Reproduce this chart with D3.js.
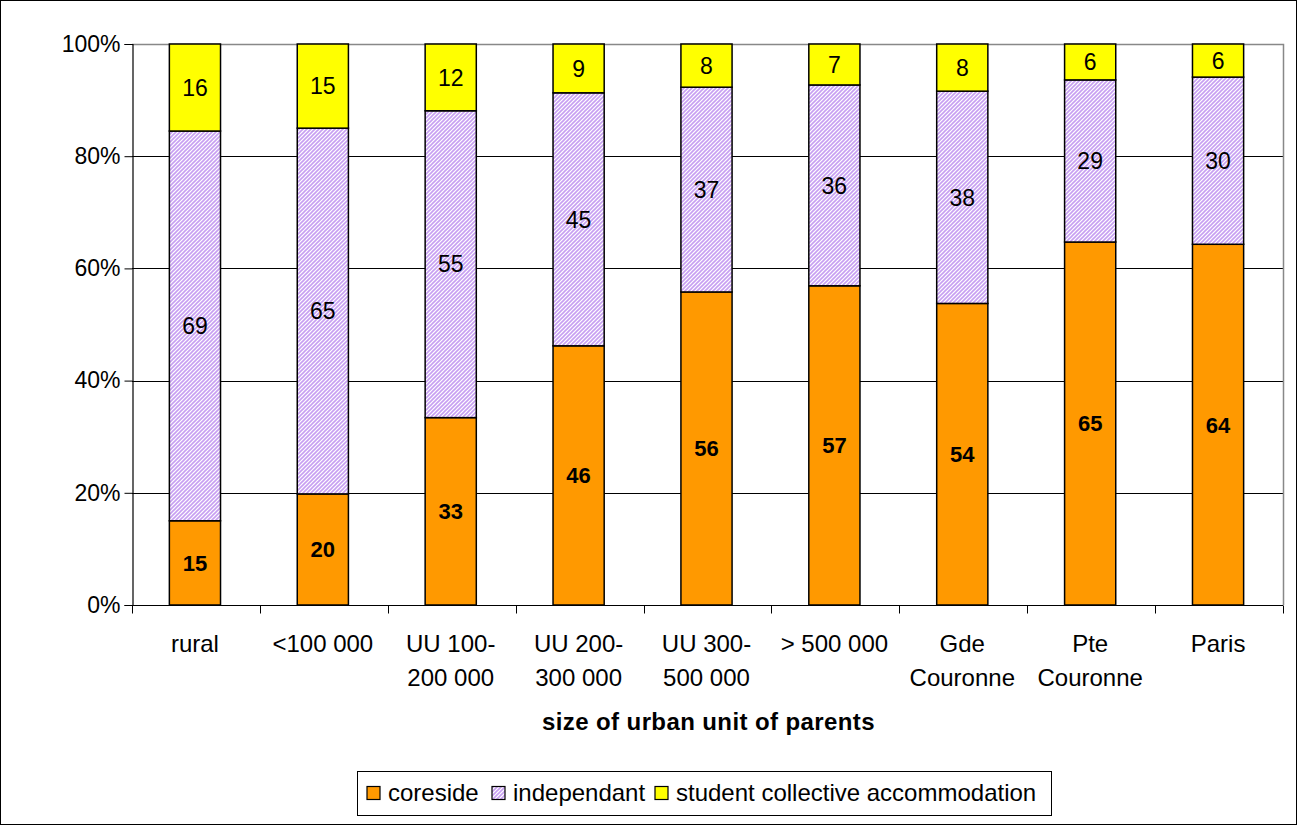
<!DOCTYPE html>
<html><head><meta charset="utf-8">
<script src="https://cdn.jsdelivr.net/npm/d3@7"></script>
<style>body{margin:0;background:#fff}svg{display:block;font-family:"Liberation Sans",Arial,sans-serif}</style>
</head><body><svg id="c" width="1299" height="827"></svg>
<script>
const categories = ["rural", "<100 000", "UU 100-\n200 000", "UU 200-\n300 000", "UU 300-\n500 000", "> 500 000", "Gde\nCouronne", "Pte\nCouronne", "Paris"];
const coreside = [15.0, 19.8, 33.4, 46.2, 55.8, 56.9, 53.7, 64.7, 64.3];
const independant = [69.4, 65.2, 54.7, 45.1, 36.5, 35.8, 37.8, 28.9, 29.8];
const student = [15.5, 15.0, 11.9, 8.7, 7.7, 7.3, 8.4, 6.4, 5.9];
const seriesNames = ["coreside", "independant", "student collective accommodation"];
const yTicks = [0, 0.2, 0.4, 0.6, 0.8, 1.0];
const axisTitle = "size of urban unit of parents";

const svg = d3.select("#c");
const W = 1299, H = 827;
const m = {l: 132, r: 1283, t: 44, b: 605};

const defs = svg.append("defs");
const pat = defs.append("pattern").attr("id", "hatch").attr("patternUnits", "userSpaceOnUse")
  .attr("width", 4).attr("height", 4);
pat.append("rect").attr("width", 4).attr("height", 4).attr("fill", "#fff");
pat.append("path").attr("d", "M-1,1 l2,-2 M0,4 l4,-4 M3,5 l2,-2").attr("stroke", "#c79ff2").attr("stroke-width", 1.6);

svg.append("rect").attr("x", 0.5).attr("y", 0.5).attr("width", W - 3).attr("height", H - 3)
  .attr("fill", "#fff").attr("stroke", "#000");

const x = d3.scaleBand().domain(d3.range(categories.length)).range([m.l, m.r]).paddingInner(0).paddingOuter(0);
const y = d3.scaleLinear().domain([0, 1]).range([m.b, m.t]);

const rows = categories.map((c, i) => ({i, coreside: coreside[i], independant: independant[i], student: student[i]}));
const keys = ["coreside", "independant", "student"];
const stack = d3.stack().keys(keys).offset(d3.stackOffsetExpand)(rows);
const fills = ["#ff9900", "url(#hatch)", "#ffff00"];

// gridlines
svg.append("g").selectAll("line").data(yTicks.slice(1, -1)).join("line")
  .attr("x1", m.l).attr("x2", m.r).attr("y1", d => Math.round(y(d)) + 0.5).attr("y2", d => Math.round(y(d)) + 0.5)
  .attr("stroke", "#000").attr("stroke-width", 1);
// plot border top/right
svg.append("path").attr("d", `M${m.l},${m.t + 0.5}H${m.r + 0.5}V${m.b}`).attr("fill", "none").attr("stroke", "#888").attr("stroke-width", 1.5);

const bw = x.bandwidth() * 0.4;
stack.forEach((s, si) => {
  svg.append("g").selectAll("rect").data(s).join("rect")
    .attr("x", (d, i) => x(i) + (x.bandwidth() - bw) / 2 - 1)
    .attr("width", bw)
    .attr("y", d => y(d[1]))
    .attr("height", d => y(d[0]) - y(d[1]))
    .attr("fill", fills[si]).attr("stroke", "#000").attr("stroke-width", 1.5);
  svg.append("g").selectAll("text").data(s).join("text")
    .attr("x", (d, i) => x(i) + x.bandwidth() / 2 - 1)
    .attr("y", d => (y(d[0]) + y(d[1])) / 2)
    .attr("dy", "0.36em").attr("text-anchor", "middle")
    .attr("font-size", si === 0 ? 22 : 23).attr("font-weight", si === 0 ? "bold" : "normal")
    .attr("fill", "#000")
    .text((d, i) => Math.round(rows[i][keys[si]]));
});

// y axis
const ya = svg.append("g").attr("transform", `translate(${m.l + 0.5},0)`)
  .call(d3.axisLeft(y).tickValues(yTicks).tickFormat(d3.format(".0%")).tickSize(8).tickPadding(4));
ya.select(".domain").attr("stroke", "#000").attr("stroke-width", 1.2);
ya.selectAll(".tick line").attr("stroke", "#000");
ya.selectAll("text").attr("font-size", 23).attr("fill", "#000").attr("font-family", "Liberation Sans, Arial, sans-serif");

// x axis
const xa = svg.append("g").attr("transform", `translate(0,${m.b + 0.5})`);
xa.append("line").attr("x1", m.l).attr("x2", m.r).attr("stroke", "#000").attr("stroke-width", 1.2);
xa.selectAll("line.t").data(d3.range(categories.length + 1)).join("line").attr("class", "t")
  .attr("x1", i => Math.round(m.l + i * x.step()) + 0.5).attr("x2", i => Math.round(m.l + i * x.step()) + 0.5)
  .attr("y1", 0).attr("y2", 8).attr("stroke", "#000");
categories.forEach((c, i) => {
  const t = xa.append("text").attr("text-anchor", "middle").attr("font-size", 24).attr("fill", "#000");
  c.split("\n").forEach((ln, k) => {
    t.append("tspan").attr("x", x(i) + x.bandwidth() / 2 - 1).attr("y", 46 + k * 34).text(ln);
  });
});

svg.append("text").attr("x", (m.l + m.r) / 2 + 1).attr("y", 730).attr("text-anchor", "middle")
  .attr("font-size", 24).attr("font-weight", "bold").attr("letter-spacing", 0.4).text(axisTitle);

// legend
const lg = svg.append("g");
lg.append("rect").attr("x", 357.5).attr("y", 771.5).attr("width", 694).attr("height", 44)
  .attr("fill", "#fff").attr("stroke", "#000").attr("stroke-width", 1);
const lx = [367, 492, 655];
seriesNames.forEach((n, i) => {
  lg.append("rect").attr("x", lx[i]).attr("y", 786.5).attr("width", 13).attr("height", 13)
    .attr("fill", fills[i]).attr("stroke", "#000").attr("stroke-width", 1.2);
  lg.append("text").attr("x", lx[i] + 21).attr("y", 801).attr("font-size", 24).text(n);
});
</script></body></html>
